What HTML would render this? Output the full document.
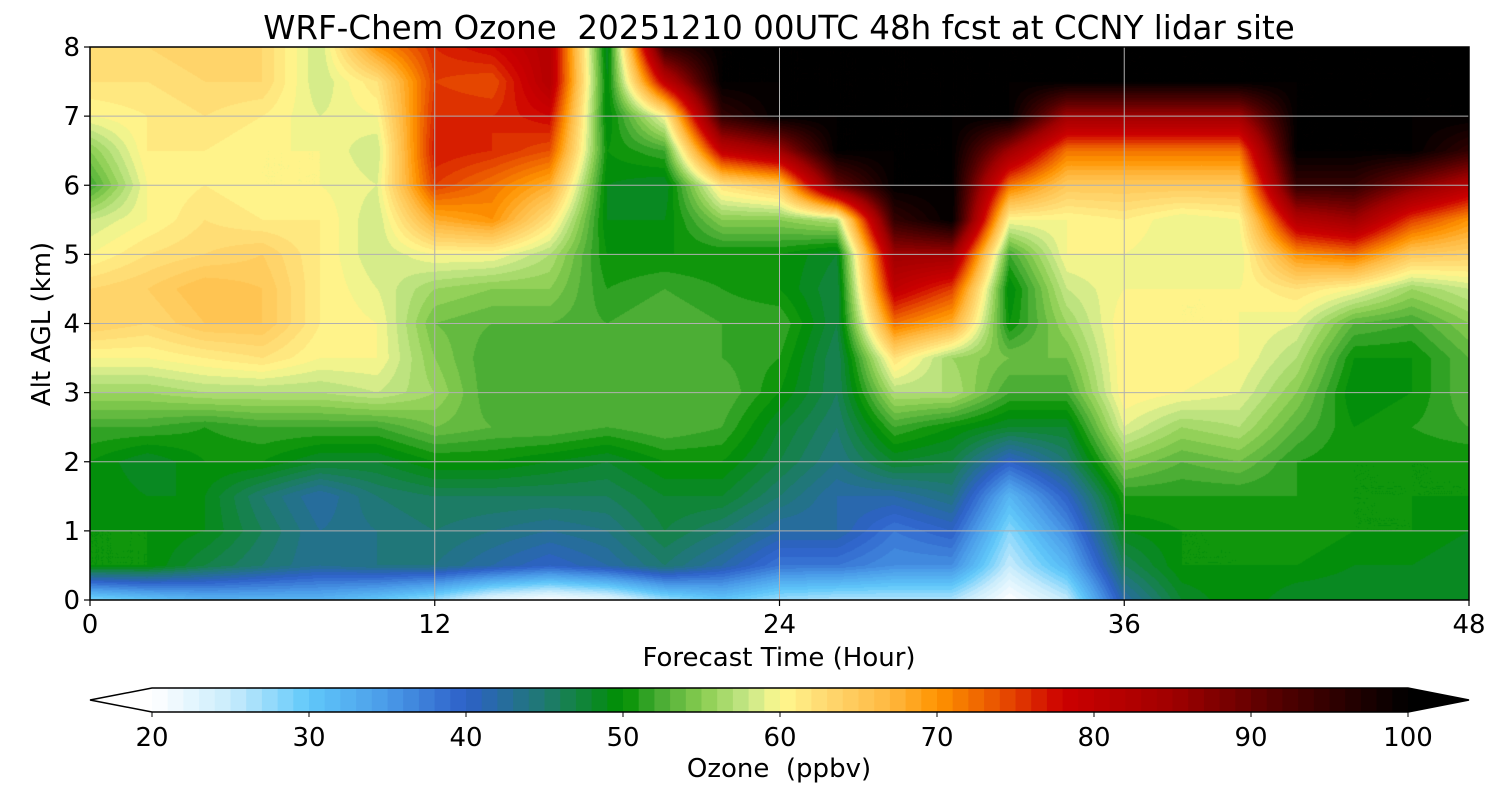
<!DOCTYPE html>
<html><head><meta charset="utf-8"><style>
body{margin:0;background:#fff;width:1500px;height:800px;overflow:hidden;font-family:"Liberation Sans","DejaVu Sans",sans-serif}
svg text{font-family:"DejaVu Sans","Liberation Sans",sans-serif;fill:#000;white-space:pre}
</style></head><body>
<canvas id="plot" width="1379" height="553" style="position:absolute;left:90px;top:47px"></canvas>
<svg id="svg" width="1500" height="800" style="position:absolute;left:0;top:0"></svg>
<script>
// data: hours and altitudes, ozone values per hour column (altitude 0..8 step 0.5)
const hours=[0,2,4,6,8,10,12,14,16,18,20,22,24,26,28,30,32,34,36,38,40,42,44,46,48];
const alts=[0,0.5,1,1.5,2,2.5,3,3.5,4,4.5,5,5.5,6,6.5,7,7.5,8];
const ozone=[
[28,50,50,50,50,52,56,60,64,63,60,58,52,55,60,62,62],
[30,50,50,49,48,52,56,60,63,64,62,60,60,61,61,62,63],
[32,47,49,49,50,51,57,61,65,66,63,62,61,61,62,63,64],
[32,45,46,45,50,52,57,62,65,65,64,61,60,60,61,63,63],
[32,43,43,42,48,52,57,60,61,61,61,61,60,60,59,58,58],
[30,44,44,45,48,52,58,60,60,59,58,58,59,58,60,62,70],
[27,44,45,46,50,54,56,55,54,56,60,68,75,77,76,75,76],
[22,42,44,46,50,53,52,52,53,55,60,70,72,76,76,74,78],
[20,40,43,46,49,53,53,52,53,55,57,62,68,74,78,82,82],
[22,42,44,46,48,52,52,53,52,51,50,49,49,50,49,49,48],
[27,45,47,48,50,53,52,52,53,52,50,49,48,52,60,80,95],
[30,42,45,48,50,52,53,52,52,51,50,55,62,80,95,100,100],
[27,38,42,45,47,48,50,51,52,50,50,55,65,85,100,100,100],
[26,38,42,42,44,45,46,46,47,47,48,57,90,100,100,100,100],
[26,36,38,42,48,52,57,62,72,80,85,95,100,100,100,100,100],
[26,36,40,44,47,50,57,56,68,75,85,100,100,100,100,100,100],
[20,25,28,32,40,48,52,54,50,49,52,60,72,85,100,100,100],
[25,32,36,40,45,48,52,54,56,58,60,60,65,72,85,100,100],
[42,46,49,51,55,59,61,61,61,60,60,61,65,72,85,100,100],
[48,50,50,51,53,56,60,61,60,60,59,59,65,72,85,100,100],
[50,50,50,51,54,57,59,60,60,60,59,60,65,72,85,100,100],
[48,50,51,51,51,53,55,57,59,62,70,82,95,100,100,100,100],
[48,49,50,50,50,50,49,50,53,60,72,85,95,100,100,100,100],
[48,49,50,50,50,51,50,50,52,56,65,75,88,100,100,100,100],
[48,48,49,50,50,52,53,53,55,58,64,70,82,95,100,100,100]];
const xTicks=[0,12,24,36,48];
const yTicks=[0,1,2,3,4,5,6,7,8];
const cbTicks=[20,30,40,50,60,70,80,90,100];

const stops=[[20,'#ffffff'],[25,'#c8ecfc'],[30,'#60c8fa'],[35,'#4a9ae8'],[40,'#2d60c8'],[45,'#1f7a70'],[50,'#009000'],[52,'#40a830'],[55,'#88cc50'],[58,'#c8e888'],[60,'#fff88f'],[63,'#ffd870'],[67,'#ffb840'],[70,'#ff9400'],[74,'#e85000'],[78,'#cc0000'],[85,'#a00000'],[92,'#500000'],[100,'#000000']];
function hx(c){return [1,3,5].map(i=>parseInt(c.substr(i,2),16));}
function cmap(v){v=Math.max(20,Math.min(100,v));for(let i=0;i<stops.length-1;i++){const[a,ca]=stops[i],[b,cb]=stops[i+1];if(v<=b){const t=(v-a)/(b-a),A=hx(ca),B=hx(cb);return A.map((x,k)=>Math.round(x+(B[k]-x)*t));}}return [0,0,0];}
const X0=90,X1=1469,Y0=600,Y1=47;
const xs=h=>X0+(h-0)/48*(X1-X0), ys=a=>Y0-(a/8)*(Y0-Y1);
const cv=document.getElementById('plot'),ctx=cv.getContext('2d');
const img=ctx.createImageData(cv.width,cv.height);
function val(h,a){let i=0;while(i<hours.length-2&&h>hours[i+1])i++;let j=0;while(j<alts.length-2&&a>alts[j+1])j++;
const tx=(h-hours[i])/(hours[i+1]-hours[i]),ty=(a-alts[j])/(alts[j+1]-alts[j]);
return ozone[i][j]*(1-tx)*(1-ty)+ozone[i+1][j]*tx*(1-ty)+ozone[i][j+1]*(1-tx)*ty+ozone[i+1][j+1]*tx*ty;}
for(let py=0;py<cv.height;py++){const a=8*(1-(py+0.5)/cv.height);for(let px=0;px<cv.width;px++){const h=48*(px+0.5)/cv.width;let v=Math.floor(val(h,a));const c=cmap(v+0.5);const k=(py*cv.width+px)*4;img.data[k]=c[0];img.data[k+1]=c[1];img.data[k+2]=c[2];img.data[k+3]=255;}}
ctx.putImageData(img,0,0);
const svg=document.getElementById('svg'),NS='http://www.w3.org/2000/svg';
function el(t,at,p){const e=document.createElementNS(NS,t);for(const k in at)e.setAttribute(k,at[k]);(p||svg).appendChild(e);return e;}
function tx(x,y,s,size,anchor,name){const e=el('text',{x:x,y:y,'font-size':size,'text-anchor':anchor||'middle'});e.textContent=s;

return e;}
xTicks.forEach(h=>{const g=el('line',{x1:xs(h),x2:xs(h),y1:Y1,y2:Y0,stroke:'#b0b0b0','stroke-width':1});


el('line',{x1:xs(h),x2:xs(h),y1:Y0,y2:Y0+6,stroke:'#000','stroke-width':1.2});
tx(xs(h),Y0+33,String(h),26,'middle','x-tick-label');});
yTicks.forEach(a=>{const g=el('line',{x1:X0,x2:X1,y1:ys(a),y2:ys(a),stroke:'#b0b0b0','stroke-width':1});


el('line',{x1:X0-6,x2:X0,y1:ys(a),y2:ys(a),stroke:'#000','stroke-width':1.2});
tx(X0-10,ys(a)+9,String(a),26,'end','y-tick-label');});
const fr=el('rect',{x:X0,y:Y1,width:X1-X0,height:Y0-Y1,fill:'none',stroke:'#000','stroke-width':1.5});


tx(779,39,'WRF-Chem Ozone\u00a0\u00a020251210 00UTC 48h fcst at CCNY lidar site',32.5,'middle','chart-title');
tx(779,666,'Forecast Time (Hour)',26,'middle','x-axis-title');
const yt=tx(0,0,'Alt AGL (km)',26,'middle','y-axis-title');yt.setAttribute('transform','translate(50,324) rotate(-90)');
const C0=152,C1=1408,CY=688,CH=24,cx=v=>C0+(v-20)/80*(C1-C0);
for(let v=20;v<100;v++){const c=cmap(v+0.5);const r=el('rect',{x:cx(v),y:CY,width:cx(v+1)-cx(v)+0.6,height:CH,fill:`rgb(${c})`});

}
const lt=el('polygon',{points:`${C0},${CY} 90,${CY+CH/2} ${C0},${CY+CH}`,fill:'#fff'});


const rt=el('polygon',{points:`${C1},${CY} 1469,${CY+CH/2} ${C1},${CY+CH}`,fill:'#000'});


el('polygon',{points:`${C0},${CY} ${C1},${CY} 1469,${CY+CH/2} ${C1},${CY+CH} ${C0},${CY+CH} 90,${CY+CH/2}`,fill:'none',stroke:'#000','stroke-width':1.5});
cbTicks.forEach(v=>{el('line',{x1:cx(v),x2:cx(v),y1:CY+CH,y2:CY+CH+5,stroke:'#000'});tx(cx(v),CY+CH+34,String(v),26,'middle','colorbar-tick-label');});
tx(779,777,'Ozone\u00a0\u00a0(ppbv)',26,'middle','colorbar-title');
</script></body></html>
